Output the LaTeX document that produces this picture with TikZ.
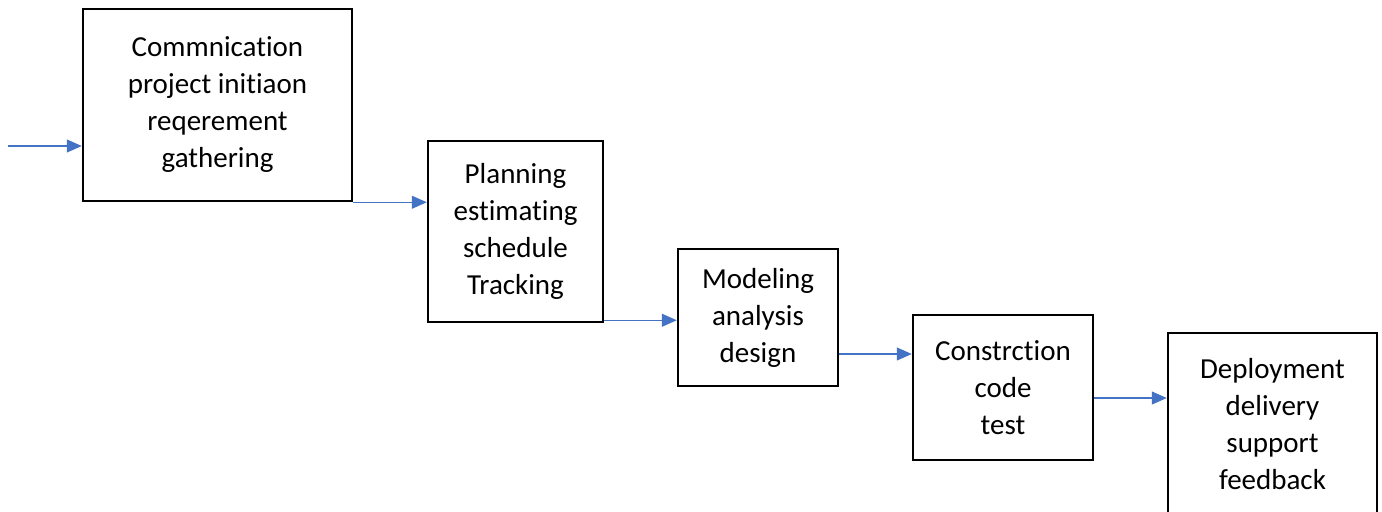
\documentclass[tikz,border=0pt]{standalone}
\usepackage{fontspec}
\setmainfont[Ligatures={CommonOff,ContextualOff,RequiredOff}]{Carlito}
\usetikzlibrary{arrows.meta,calc}
\definecolor{arrblue}{HTML}{4472C4}
\tikzset{
  stagebox/.style={draw=black, line width=1.25pt, align=center, inner sep=0pt,
    font=\fontsize{14.5}{18.5}\selectfont},
  flowarr/.style={draw=arrblue, line width=0.6pt, -{Triangle[length=7.5pt,width=6.5pt]}}
}
\begin{document}
\begin{tikzpicture}[x=0.5pt,y=-0.5pt]
\useasboundingbox (0,0) rectangle (1382,511);
\clip (0,0) rectangle (1382,511);
\node[stagebox, minimum width=134.5pt, minimum height=96pt] (b1) at (217.5,105)
  {Commnication\\project initiaon\\reqerement\\gathering};
\node[stagebox, minimum width=87.5pt, minimum height=90.5pt] (b2) at (515.5,231.5)
  {Planning\\estimating\\schedule\\Tracking};
\node[stagebox, minimum width=80pt, minimum height=68.5pt] (b3) at (758,317.5)
  {Modeling\\analysis\\design};
\node[stagebox, minimum width=90pt, minimum height=72.5pt] (b4) at (1003,387.5)
  {Constrction\\code\\test};
\node[stagebox, minimum width=104.5pt, minimum height=91pt] (b5) at (1272.5,424)
  {Deployment\\delivery\\support\\feedback};
\coordinate (start) at (8,146);
\draw[flowarr] (start) -- (start -| b1.west);
\draw[flowarr] (b1.south east) -- (b2.west |- b1.south east);
\coordinate (a2) at ($(b2.south east)+(0,-3)$);
\draw[flowarr] (a2) -- (a2 -| b3.west);
\coordinate (a3) at ($(b3.east)+(0,36.5)$);
\draw[flowarr] (a3) -- (a3 -| b4.west);
\coordinate (a4) at ($(b4.east)+(0,10.5)$);
\draw[flowarr] (a4) -- (a4 -| b5.west);
\end{tikzpicture}
\end{document}
